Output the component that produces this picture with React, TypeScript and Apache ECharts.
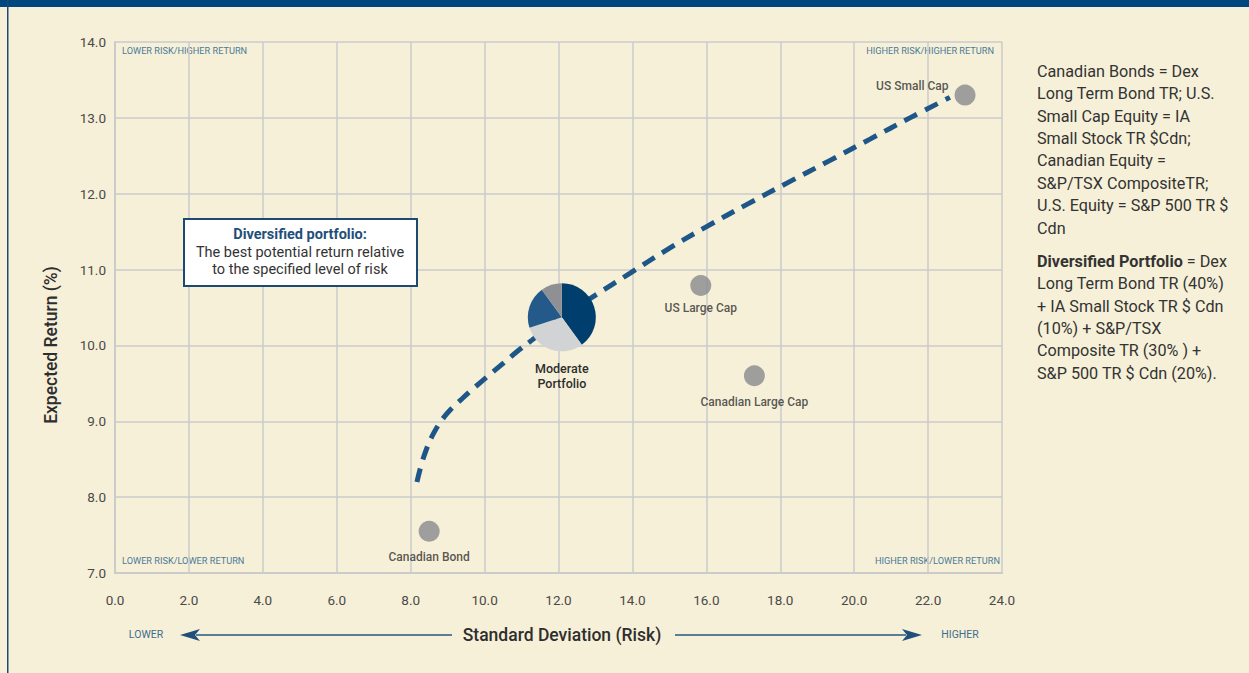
import React, { useEffect, useRef } from "react";
import * as echarts from "echarts";

const xTicks = { min: 0, max: 24, interval: 2 };
const yTicks = { min: 7, max: 14, interval: 1 };

const assetNames = ["US Small Cap", "US Large Cap", "Canadian Large Cap", "Canadian Bond"];
const assetRisk = [23.0, 15.85, 17.3, 8.5];
const assetReturn = [13.3, 10.79, 9.6, 7.55];

const frontierRisk = [8.17, 8.36, 8.63, 8.98, 9.44, 9.93, 10.42, 10.88, 11.28, 12.09, 12.99, 13.93, 14.93, 16.02, 17.1, 18.18, 19.35, 20.43, 21.51, 22.59];
const frontierReturn = [8.2, 8.54, 8.85, 9.1, 9.32, 9.53, 9.73, 9.92, 10.07, 10.37, 10.66, 10.95, 11.26, 11.57, 11.86, 12.14, 12.44, 12.72, 13.0, 13.27];

const portfolioPoint = [12.09, 10.37];
const portfolioWeights = [40, 30, 20, 10];
const portfolioColors = ["#003f6d", "#d2d3d5", "#245a8a", "#8f9094"];

const notesBlock1 = [
  "Canadian Bonds = Dex",
  "Long Term Bond TR; U.S.",
  "Small Cap Equity = IA",
  "Small Stock TR $Cdn;",
  "Canadian Equity =",
  "S&P/TSX CompositeTR;",
  "U.S. Equity = S&P 500 TR $",
  "Cdn",
];
const notesBlock2 = [
  "{b|Diversified Portfolio} = Dex",
  "Long Term Bond TR (40%)",
  "+ IA Small Stock TR $ Cdn",
  "(10%) + S&P/TSX",
  "Composite TR (30% ) +",
  "S&P 500 TR $ Cdn (20%).",
];

const FONT = "Roboto, 'Noto Sans', sans-serif";
const BG = "#f6f0d8";
const TEXT = "#2e2e2e";

export default function App() {
  const ref = useRef<HTMLDivElement>(null);
  useEffect(() => {
    if (!ref.current) return;
    const chart = echarts.init(ref.current, null, { renderer: "svg" });

    const labelStyle = { fontFamily: FONT, fontSize: 12, fontWeight: 500, color: TEXT };
    const labelCfg: any[] = [
      { position: "left", distance: 6, offset: [0, -9] },
      { position: "bottom", distance: 6 },
      { position: "bottom", distance: 10 },
      { position: "bottom", distance: 9 },
    ];

    const cornerStyle = { fontFamily: FONT, fontSize: 9.2, fill: "#4a7a98" };
    const tickLabel = {
      fontFamily: FONT,
      fontSize: 13.5,
      color: "#4a4a4a",
      formatter: (v: number) => v.toFixed(1),
    };

    const option: any = {
      animation: false,
      backgroundColor: BG,
      grid: { left: 115, top: 42, width: 887, height: 531, containLabel: false },
      xAxis: {
        type: "value",
        min: xTicks.min,
        max: xTicks.max,
        interval: xTicks.interval,
        axisLine: { show: true, lineStyle: { color: "#cbcbcb", width: 2 } },
        axisTick: { show: false },
        splitLine: { show: true, lineStyle: { color: "#cbcbcb", width: 1.5 } },
        axisLabel: { margin: 20, ...tickLabel },
      },
      yAxis: {
        type: "value",
        min: yTicks.min,
        max: yTicks.max,
        interval: yTicks.interval,
        axisLine: { show: true, lineStyle: { color: "#cbcbcb", width: 2 } },
        axisTick: { show: false },
        splitLine: { show: true, lineStyle: { color: "#cbcbcb", width: 1.5 } },
        axisLabel: { margin: 9, ...tickLabel },
      },
      series: [
        {
          type: "line",
          data: frontierRisk.map((x, i) => [x, frontierReturn[i]]),
          smooth: 0.4,
          showSymbol: false,
          symbol: "none",
          z: 2,
          lineStyle: { color: "#1f5688", width: 5, type: [14, 9] },
        },
        {
          type: "scatter",
          z: 3,
          symbolSize: 21,
          itemStyle: { color: "#88898d" },
          data: assetNames.map((n, i) => ({
            name: n,
            value: [assetRisk[i], assetReturn[i]],
            label: { show: true, formatter: n, ...labelStyle, ...labelCfg[i] },
          })),
        },
        {
          type: "custom",
          z: 4,
          data: [portfolioPoint],
          renderItem: (params: any, api: any) => {
            const c = api.coord([api.value(0), api.value(1)]);
            const total = portfolioWeights.reduce((a, b) => a + b, 0);
            let cum = 0;
            const children: any[] = portfolioWeights.map((w, i) => {
              const start = -Math.PI / 2 + (cum / total) * Math.PI * 2;
              cum += w;
              const end = -Math.PI / 2 + (cum / total) * Math.PI * 2;
              return {
                type: "sector",
                shape: { cx: c[0], cy: c[1], r: 34, r0: 0, startAngle: start, endAngle: end, clockwise: true },
                style: { fill: portfolioColors[i] },
              };
            });
            children.push({
              type: "text",
              x: c[0],
              y: c[1] + 59,
              style: {
                text: "Moderate\nPortfolio",
                fontFamily: FONT,
                fontSize: 12.5,
                fontWeight: 500,
                fill: TEXT,
                align: "center",
                verticalAlign: "middle",
                lineHeight: 15,
              },
            });
            return { type: "group", children };
          },
        },
      ],
      graphic: [
        { type: "rect", left: 0, top: 0, shape: { width: 1249, height: 7 }, style: { fill: "#00467f" }, z: 100 },
        { type: "rect", left: 7, top: 0, shape: { width: 1.5, height: 673 }, style: { fill: "#1c4a78" }, z: 100 },
        { type: "text", x: 122, y: 50, style: { ...cornerStyle, text: "LOWER RISK/HIGHER RETURN", verticalAlign: "middle" } },
        { type: "text", x: 994, y: 50, style: { ...cornerStyle, text: "HIGHER RISK/HIGHER RETURN", align: "right", verticalAlign: "middle" } },
        { type: "text", x: 122, y: 560, style: { ...cornerStyle, text: "LOWER RISK/LOWER RETURN", verticalAlign: "middle" } },
        { type: "text", x: 1000, y: 560, style: { ...cornerStyle, text: "HIGHER RISK/LOWER RETURN", align: "right", verticalAlign: "middle" } },
        {
          type: "text",
          x: 51,
          y: 345,
          rotation: Math.PI / 2,
          style: {
            text: "Expected Return (%)",
            fontFamily: FONT,
            fontSize: 17.5,
            fontWeight: 500,
            fill: TEXT,
            align: "center",
            verticalAlign: "middle",
          },
        },
        {
          type: "text",
          x: 562,
          y: 635,
          style: {
            text: "Standard Deviation (Risk)",
            fontFamily: FONT,
            fontSize: 17.5,
            fontWeight: 500,
            fill: TEXT,
            align: "center",
            verticalAlign: "middle",
          },
        },
        {
          type: "rect",
          shape: { x: 184, y: 219, width: 233, height: 67 },
          style: { fill: "#ffffff", stroke: "#1c4a73", lineWidth: 2 },
          z: 50,
        },
        {
          type: "text",
          x: 300,
          y: 234,
          z: 51,
          style: { text: "Diversified portfolio:", fontFamily: FONT, fontSize: 14.5, fontWeight: "bold", fill: "#1f4f7a", align: "center", verticalAlign: "middle" },
        },
        {
          type: "text",
          x: 300,
          y: 261,
          z: 51,
          style: {
            text: "The best potential return relative\nto the specified level of risk",
            fontFamily: FONT,
            fontSize: 14.5,
            fill: "#333",
            align: "center",
            verticalAlign: "middle",
            lineHeight: 17.5,
          },
        },
        { type: "line", shape: { x1: 196, y1: 635, x2: 452, y2: 635 }, style: { stroke: "#5a7e98", lineWidth: 2 } },
        { type: "polygon", shape: { points: [[180, 635], [200, 629], [195, 635], [200, 641]] }, style: { fill: "#1f4f7a" } },
        { type: "line", shape: { x1: 675, y1: 635, x2: 906, y2: 635 }, style: { stroke: "#5a7e98", lineWidth: 2 } },
        { type: "polygon", shape: { points: [[922, 635], [902, 629], [907, 635], [902, 641]] }, style: { fill: "#1f4f7a" } },
        { type: "text", x: 146, y: 634, style: { text: "LOWER", fontFamily: FONT, fontSize: 10.5, fill: "#3f6d8f", align: "center", verticalAlign: "middle" } },
        { type: "text", x: 960, y: 634, style: { text: "HIGHER", fontFamily: FONT, fontSize: 10.5, fill: "#3f6d8f", align: "center", verticalAlign: "middle" } },
        {
          type: "text",
          x: 1037,
          y: 60,
          style: {
            text: notesBlock1.join("\n"),
            fontFamily: FONT,
            fontSize: 16.2,
            fill: "#333",
            lineHeight: 22.4,
            verticalAlign: "top",
          },
        },
        {
          type: "text",
          x: 1037,
          y: 250,
          style: {
            text: notesBlock2.join("\n"),
            fontFamily: FONT,
            fontSize: 16.2,
            fill: "#333",
            lineHeight: 22.4,
            verticalAlign: "top",
            rich: {
              b: { fontFamily: FONT, fontSize: 16.2, fontWeight: "bold", fill: "#333", lineHeight: 22.4 },
            },
          },
        },
      ],
    };

    chart.setOption(option);
    return () => chart.dispose();
  }, []);

  return (
    <div
      ref={ref}
      style={{ position: "absolute", left: 0, top: 0, width: 1249, height: 673, background: BG }}
    />
  );
}
